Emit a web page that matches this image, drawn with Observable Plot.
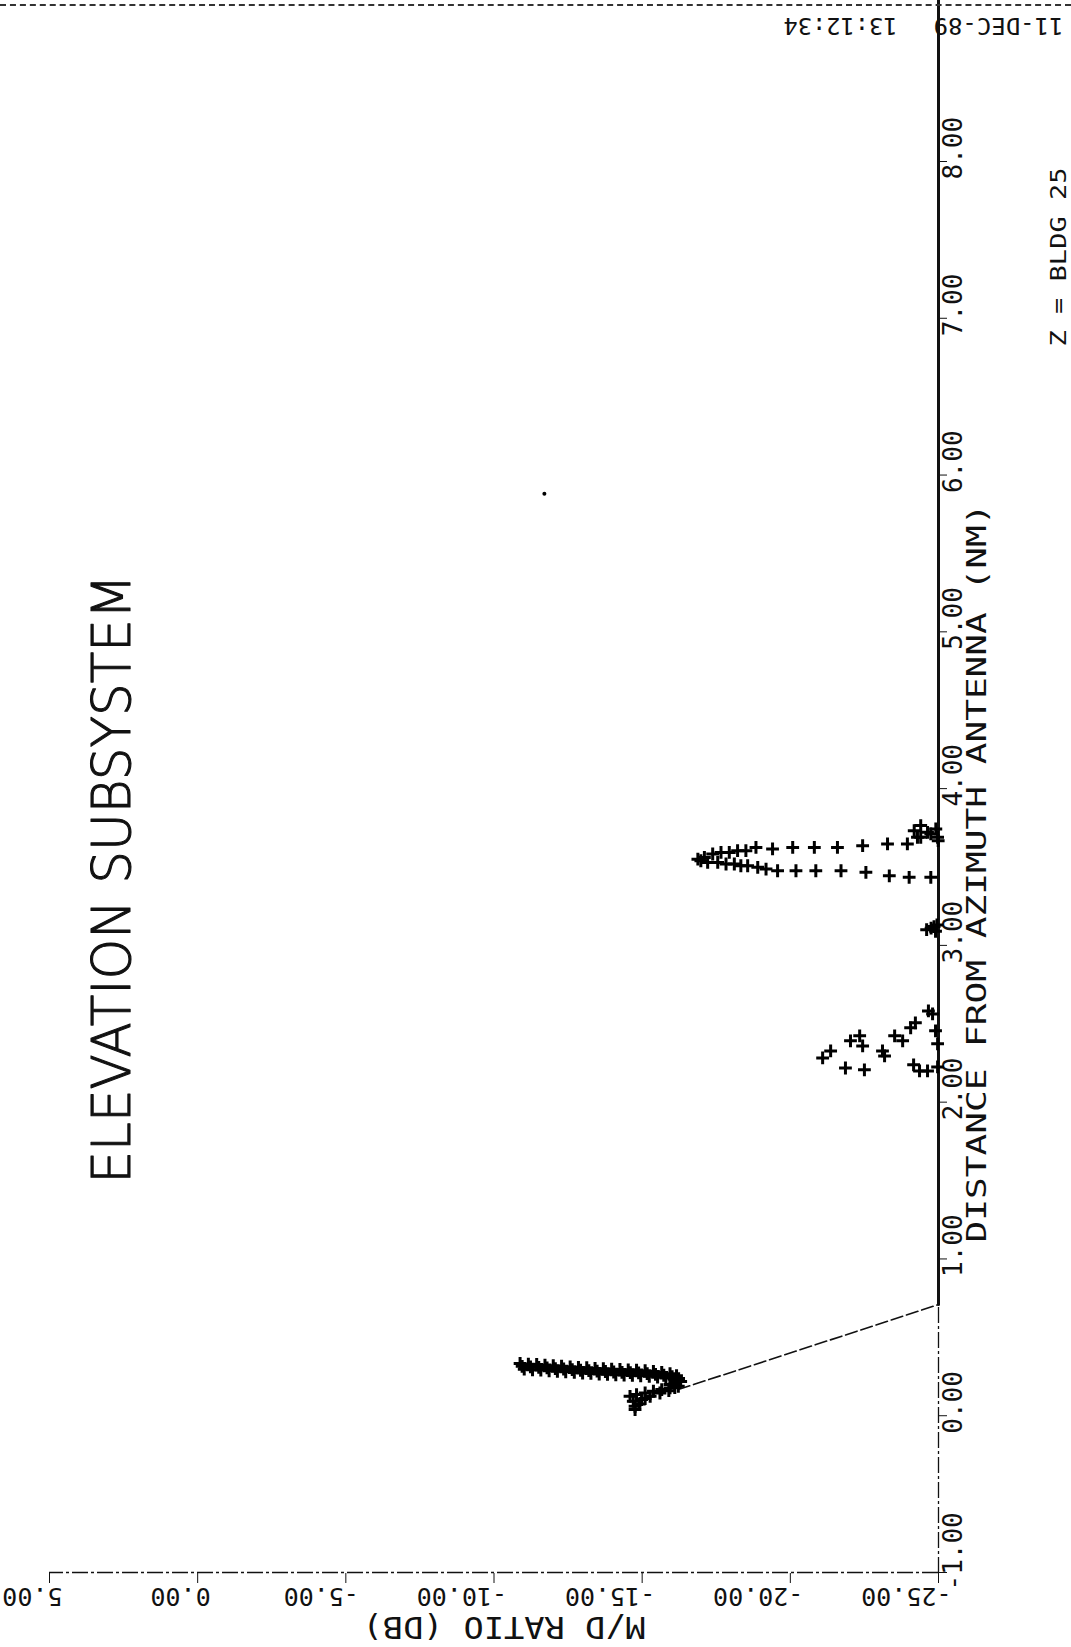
<!DOCTYPE html>
<html><head><meta charset="utf-8">
<script src="https://cdn.jsdelivr.net/npm/d3@7"></script>
<script src="https://cdn.jsdelivr.net/npm/@observablehq/plot@0.6"></script>
<style>
html,body{margin:0;padding:0;background:#fff;}
#page{position:relative;width:1071px;height:1647px;overflow:hidden;background:#fff;}
#rot{position:absolute;left:0;top:0;width:1647px;height:1071px;transform-origin:0 0;transform:translate(0px,1647px) rotate(-90deg);}
#edge{position:absolute;left:0;top:4px;width:1071px;border-top:2px dashed #333;}
#rot g[aria-label="x-axis"] line, #rot g[aria-label="y-axis"] line,
#rot g[aria-label="x-axis"] path, #rot g[aria-label="y-axis"] path {stroke-width:2.2px;}
</style></head><body>
<div id="page"><div id="rot"></div><div id="edge"></div></div>
<script>
// ---- texts ----
const title = "ELEVATION SUBSYSTEM";
const xLabel = "DISTANCE FROM AZIMUTH ANTENNA (NM)";
const yLabel = "M/D RATIO (DB)";
const dateText = "11-DEC-89";
const timeText = "13:12:34";
const noteText = "Z = BLDG 25";

// ---- ticks ----
const xTicks = [-1, 0, 1, 2, 3, 4, 5, 6, 7, 8];
const yTicks = [-25, -20, -15, -10, -5, 0, 5];
const axisSpan = [-1, 9.05];

// ---- data: distance (NM) and M/D ratio (dB) ----
const bandADist = [0.333,0.329,0.327,0.323,0.319,0.316,0.312,0.308,0.306,0.302,0.300,0.297,0.295,0.293,0.291,0.287,0.282,0.276,0.268,0.255];
const bandADb   = [-10.88,-11.16,-11.44,-11.72,-12.00,-12.28,-12.57,-12.85,-13.13,-13.41,-13.69,-13.97,-14.25,-14.53,-14.81,-15.10,-15.38,-15.66,-15.94,-16.16];
const bandBDist = [0.297,0.293,0.291,0.287,0.283,0.280,0.276,0.272,0.270,0.266,0.264,0.261,0.259,0.257,0.255,0.251,0.246,0.240,0.232,0.219];
const bandBDb   = [-11.02,-11.30,-11.58,-11.86,-12.14,-12.42,-12.71,-12.99,-13.27,-13.55,-13.83,-14.11,-14.39,-14.67,-14.95,-15.24,-15.52,-15.80,-16.08,-16.30];
const bandCDist = [0.315,0.311,0.309,0.305,0.301,0.298,0.294,0.290,0.288,0.284,0.282,0.279,0.277,0.275,0.273,0.269,0.264,0.258,0.250,0.237];
const bandCDb   = [-10.95,-11.23,-11.51,-11.79,-12.07,-12.35,-12.64,-12.92,-13.20,-13.48,-13.76,-14.04,-14.32,-14.60,-14.88,-15.17,-15.45,-15.73,-16.01,-16.23];
const lobeDist = [0.188,0.177,0.167,0.156,0.145,0.135,0.124,0.092,0.060,0.039,0.103,0.124,0.145,0.199,0.220,0.075,0.110,0.160,0.180];
const lobeDb   = [-16.22,-15.94,-15.66,-15.38,-15.10,-14.81,-14.59,-14.70,-14.76,-14.76,-14.98,-15.27,-15.60,-15.94,-16.16,-14.90,-15.10,-15.90,-16.10];
const riseDist = [0.167, 0.709];
const riseDb   = [-16.22, -25];
const floorDist = [0.709, 9.05];
const floorDb   = [-25, -25];
const cl2Dist = [2.282,2.327,2.218,2.206,2.391,2.423,2.359,2.295,2.327,2.423,2.391,2.474,2.506,2.582,2.563,2.455,2.372,2.238,2.199,2.199,2.225];
const cl2Db   = [-21.09,-21.36,-21.86,-22.50,-22.03,-22.34,-22.44,-23.18,-23.11,-23.52,-23.79,-24.06,-24.22,-24.66,-24.80,-24.90,-24.97,-24.16,-24.36,-24.63,-24.97];
const cl3Dist = [3.09,3.11,3.13,3.10,3.12];
const cl3Db   = [-24.90,-24.75,-24.95,-24.60,-24.85];
const wedgeUpDist = [3.550,3.561,3.583,3.593,3.593,3.604,3.604,3.625,3.615,3.625,3.625,3.625,3.636,3.647,3.647,3.689,3.711,3.689];
const wedgeUpDb   = [-16.88,-17.10,-17.38,-17.66,-17.94,-18.22,-18.50,-18.84,-19.40,-20.08,-20.81,-21.59,-22.44,-23.28,-23.95,-24.40,-24.74,-24.97];
const wedgeLoDist = [3.540,3.529,3.529,3.519,3.519,3.508,3.508,3.498,3.487,3.476,3.476,3.476,3.476,3.466,3.444,3.434,3.434];
const wedgeLoDb   = [-16.98,-17.21,-17.55,-17.83,-18.11,-18.33,-18.56,-18.90,-19.18,-19.57,-20.19,-20.86,-21.71,-22.55,-23.34,-24.01,-24.74];
const wedgeTopDist = [3.732,3.764,3.721,3.743,3.668,3.689];
const wedgeTopDb   = [-24.18,-24.40,-24.63,-24.91,-24.99,-24.29];
const speckDist = [5.88];
const speckDb   = [-11.70];

const zip = (a, b) => a.map((d, i) => ({d, db: b[i]}));
const markers = [
  ...zip(bandADist, bandADb), ...zip(bandBDist, bandBDb), ...zip(bandCDist, bandCDb), ...zip(lobeDist, lobeDb),
  ...zip(cl2Dist, cl2Db), ...zip(cl3Dist, cl3Db),
  ...zip(wedgeUpDist, wedgeUpDb), ...zip(wedgeLoDist, wedgeLoDb), ...zip(wedgeTopDist, wedgeTopDb)
];
const fmt = d => d.toFixed(2);
const ink = "#111";

const svg = Plot.plot({
  width: 1647, height: 1071,
  marginLeft: 74, marginRight: 162, marginTop: 49, marginBottom: 133,
  x: {domain: [-1, 8], ticks: xTicks, tickSize: 9, tickFormat: () => "", label: null},
  y: {domain: [-25, 5], ticks: yTicks, tickSize: 10, tickFormat: () => "", label: null},
  style: {background: "white", color: ink, fontFamily: "'DejaVu Sans Mono', monospace", overflow: "visible"},
  marks: [
    Plot.ruleY([-25], {x1: axisSpan[0], x2: axisSpan[1], stroke: ink, strokeWidth: 1.3, strokeDasharray: "16,3,3,3"}),
    Plot.ruleX([-1], {y1: -25, y2: 5, stroke: ink, strokeWidth: 1.3, strokeDasharray: "16,3,3,3"}),
    Plot.text(xTicks, {x: d => d, text: fmt, frameAnchor: "bottom", textAnchor: "start", lineAnchor: "top", dx: -18, dy: 5, fontSize: 26, fill: ink}),
    Plot.text(yTicks, {y: d => d, text: fmt, frameAnchor: "left", rotate: -90, textAnchor: "start", lineAnchor: "bottom", dx: -15, dy: 13, fontSize: 25, fill: ink}),
    Plot.text([xLabel], {text: d => d, frameAnchor: "bottom", lineAnchor: "top", dx: -6, dy: 29, fontSize: 26, fill: ink}),
    Plot.text([yLabel], {text: d => d, frameAnchor: "left", rotate: -90, textAnchor: "middle", lineAnchor: "bottom", dx: -44, dy: 10, fontSize: 31, fill: ink}),
    Plot.text([title], {text: d => d, frameAnchor: "top", lineAnchor: "top", dx: -12, dy: 43, fontSize: 53, fontFamily: "'DejaVu Sans', sans-serif", fontWeight: 200, fill: ink, stroke: ink, strokeWidth: 1.1}),
    Plot.text([timeText], {text: d => d, frameAnchor: "bottom-right", rotate: -90, textAnchor: "start", lineAnchor: "bottom", dx: 144, dy: -41, fontSize: 23, fill: ink}),
    Plot.text([dateText], {text: d => d, frameAnchor: "bottom-right", rotate: -90, textAnchor: "start", lineAnchor: "bottom", dx: 144, dy: 125, fontSize: 23, fill: ink}),
    Plot.text([noteText], {text: d => d, frameAnchor: "bottom-right", textAnchor: "start", lineAnchor: "bottom", dx: -185, dy: 127, fontSize: 22, fill: ink}),
    Plot.line(zip(riseDist, riseDb), {x: "d", y: "db", stroke: ink, strokeWidth: 1.6, strokeDasharray: "12,4"}),
    Plot.line(zip(floorDist, floorDb), {x: "d", y: "db", stroke: ink, strokeWidth: 3}),
    Plot.dot(markers, {x: "d", y: "db", symbol: "plus", r: 4.2, stroke: "#000", strokeWidth: 3}),
    Plot.dot(zip(speckDist, speckDb), {x: "d", y: "db", r: 2, fill: "#000"})
  ]
});

const lengths = new Map([[title, 609], [xLabel, 739], [yLabel, 283], [dateText, 130], [timeText, 114], [noteText, 179]]);
d3.select(svg).selectAll("text").each(function() {
  const t = this.textContent;
  if (lengths.has(t)) {
    this.setAttribute("textLength", lengths.get(t));
    this.setAttribute("lengthAdjust", "spacingAndGlyphs");
  }
});
document.getElementById("rot").appendChild(svg);
</script></body></html>
